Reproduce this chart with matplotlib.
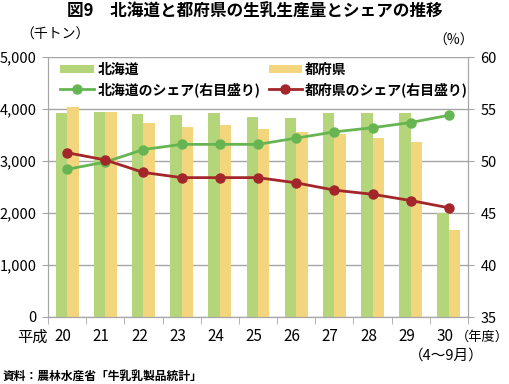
import numpy as np
import matplotlib.pyplot as plt
import matplotlib.transforms as mtransforms
from matplotlib.patches import Patch
from matplotlib.lines import Line2D

plt.rcParams['font.family'] = ['Noto Sans CJK JP', 'DejaVu Sans']

# データ
years = ['20', '21', '22', '23', '24', '25', '26', '27', '28', '29', '30']
hokkaido = [3920, 3940, 3900, 3890, 3930, 3850, 3830, 3920, 3920, 3920, 2000]
tofuken = [4030, 3950, 3730, 3650, 3690, 3610, 3560, 3520, 3440, 3370, 1670]
share_hokkaido = [49.2, 49.9, 51.1, 51.6, 51.6, 51.6, 52.2, 52.8, 53.2, 53.7, 54.4]
share_tofuken = [50.8, 50.1, 48.9, 48.4, 48.4, 48.4, 47.9, 47.2, 46.8, 46.2, 45.5]

c_bar_h = '#b5d57b'
c_bar_t = '#f3d57d'
c_line_h = '#67b552'
c_line_t = '#a3262a'
grid_c = '#a6a6a6'

fig = plt.figure(figsize=(5.09, 3.84), dpi=100)
ax = fig.add_axes([48/509, 1-317/384, 420/509, 260/384])
ax2 = ax.twinx()

x = np.arange(len(years))
w = 0.3
ax.bar(x - w/2, hokkaido, w, color=c_bar_h, zorder=2)
ax.bar(x + w/2, tofuken, w, color=c_bar_t, zorder=2)

ax2.plot(x, share_hokkaido, color=c_line_h, lw=2, marker='o', ms=6.5, zorder=3)
ax2.plot(x, share_tofuken, color=c_line_t, lw=2, marker='o', ms=6.5, zorder=3)

ax.set_xlim(-0.5, len(years) - 0.5)
ax.set_ylim(0, 5000)
ax.set_yticks(range(0, 5001, 1000))
ax.set_yticklabels([f'{v:,}' for v in range(0, 5001, 1000)])
ax2.set_ylim(35, 60)
ax2.set_yticks(range(35, 61, 5))

ax.yaxis.grid(True, color=grid_c, lw=1, zorder=0)
ax.set_axisbelow(True)

ax.set_xticks(x)
ax.set_xticklabels(years)
ax.set_xticks(np.arange(-0.5, len(years)), minor=True)
ax.tick_params(axis='x', which='major', length=0, pad=8, labelsize=11)
ax.tick_params(axis='x', which='minor', length=5, color=grid_c)
ax.tick_params(axis='y', length=4, color=grid_c, pad=4, labelsize=10.5)
ax2.tick_params(axis='y', length=4, color=grid_c, pad=5, labelsize=10.5)

# 年の目盛りラベルを少し左へ
shift = mtransforms.ScaledTranslation(-4/100, 0, fig.dpi_scale_trans)
for lab in ax.get_xticklabels():
    lab.set_transform(lab.get_transform() + shift)

for a in (ax, ax2):
    a.spines['top'].set_visible(False)
    for s in ('left', 'right', 'bottom'):
        a.spines[s].set_color(grid_c)

handles = [
    Patch(facecolor=c_bar_h, edgecolor='none'),
    Line2D([], [], color=c_line_h, lw=2, marker='o', ms=6.5),
    Patch(facecolor=c_bar_t, edgecolor='none'),
    Line2D([], [], color=c_line_t, lw=2, marker='o', ms=6.5),
]
labels = ['北海道', '北海道のシェア(右目盛り)', '都府県', '都府県のシェア(右目盛り)']
leg = ax2.legend(handles, labels, ncol=2, loc='upper left', bbox_to_anchor=(0.0, 1.025),
                 frameon=False, handlelength=2.4, handleheight=0.5,
                 columnspacing=0.6, handletextpad=0.25, labelspacing=0.35,
                 prop={'weight': 'bold', 'size': 10})

fig.text(0.5, 1 - 12/384, '図9　北海道と都府県の生乳生産量とシェアの推移',
         ha='center', va='center', fontsize=12, fontweight='bold')
fig.text(20/509, 1 - 35/384, '（千トン）', ha='left', va='center', fontsize=10)
fig.text(474/509, 1 - 41/384, '（%）', ha='right', va='center', fontsize=10)
fig.text(48/509, 1 - 337/384, '平成', ha='right', va='center', fontsize=11)
fig.text(456/509, 1 - 337/384, '（年度）', ha='left', va='center', fontsize=9.5)
fig.text(484/509, 1 - 356/384, '（4～9月）', ha='right', va='center', fontsize=10.5)
fig.text(3/509, 1 - 376/384, '資料：農林水産省「牛乳乳製品統計」', ha='left', va='center',
         fontsize=8.5, fontweight='bold')

fig.savefig('out.png', dpi=100)
